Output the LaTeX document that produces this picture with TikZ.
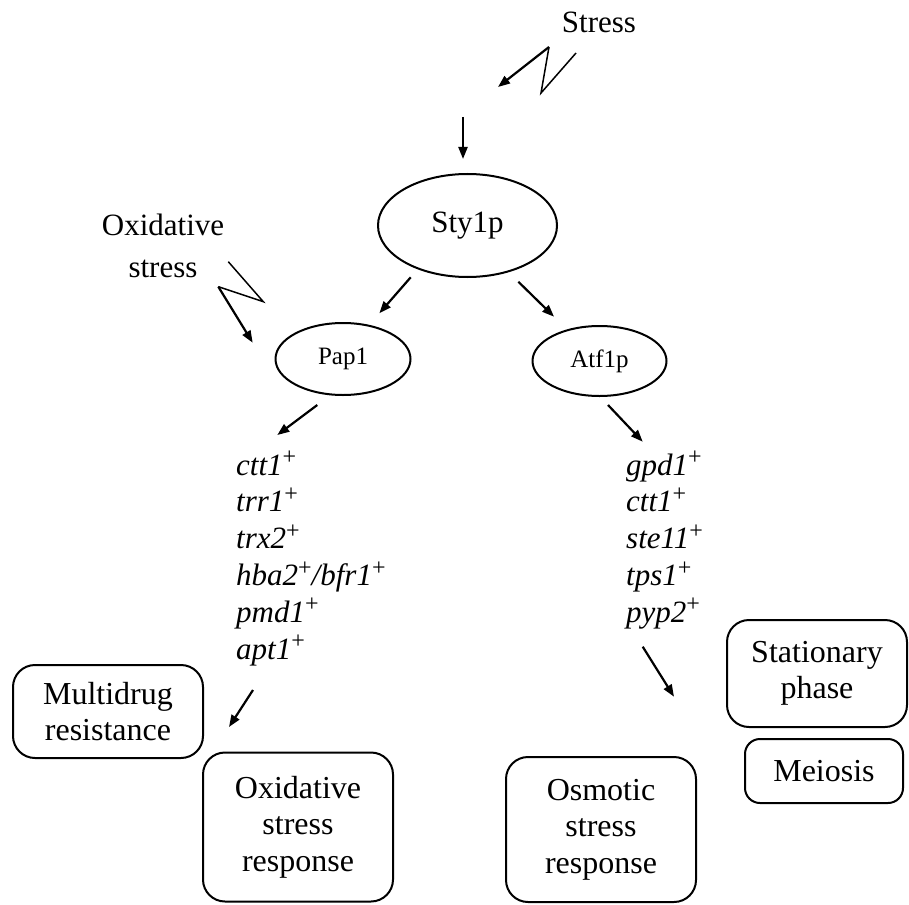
\documentclass[tikz,border=0pt]{standalone}
\usepackage{fontspec}
\setmainfont{Liberation Serif}
\usetikzlibrary{arrows.meta,shapes.geometric}
\newcommand\plussup{\raisebox{0.33em}{\fontsize{24}{24}\selectfont +}}
\begin{document}
\begin{tikzpicture}[x=1pt,y=-1pt,
  prot/.style={ellipse, draw, line width=2pt, inner sep=0pt},
  resp/.style={draw, rounded corners=22pt, line width=2pt, align=center, inner sep=0pt,
               font=\fontsize{32}{36.5}\selectfont},
  lbl/.style={inner sep=0pt, font=\fontsize{31}{42}\selectfont},
  gene/.style={inner sep=0pt, font=\fontsize{31}{36.8}\selectfont},
  arr/.style={line width=2.2pt, -{Triangle[length=12pt,width=9pt]}},
  zig/.style={line width=1.5pt, line join=miter}]
\useasboundingbox (0,0) rectangle (909,904);

% labels
\node[lbl, anchor=base] (stresslbl) at (599,33) {Stress};
\node[lbl, anchor=base] (oxlbl) at (163,235) {\begin{tabular}[t]{@{}c@{}}Oxidative\\stress\end{tabular}};

% proteins
\node[prot, minimum width=179pt, minimum height=103pt, font=\fontsize{31}{36}\selectfont] (sty) at (467.5,225.5) {\raisebox{7pt}{Sty1p}};
\node[prot, minimum width=135pt, minimum height=72pt, font=\fontsize{25}{28}\selectfont] (pap) at (343,359) {Pap1};
\node[prot, minimum width=134pt, minimum height=70pt, font=\fontsize{25}{28}\selectfont] (atf) at (599.5,361) {Atf1p};

% gene lists
\node[gene, anchor=base west] (genesL) at (236,475) {\begin{tabular}[t]{@{}l@{}}
\textit{ctt1}\plussup\\
\textit{trr1}\plussup\\
\textit{trx2}\plussup\\
\textit{hba2}\plussup\textit{/bfr1}\plussup\\
\textit{pmd1}\plussup\\
\textit{apt1}\plussup
\end{tabular}};
\node[gene, anchor=base west] (genesR) at (626,475) {\begin{tabular}[t]{@{}l@{}}
\textit{gpd1}\plussup\\
\textit{ctt1}\plussup\\
\textit{ste11}\plussup\\
\textit{tps1}\plussup\\
\textit{pyp2}\plussup
\end{tabular}};

% responses
\node[resp, minimum width=190pt, minimum height=93pt] (mdr) at (108,711.5) {Multidrug\\resistance};
\node[resp, minimum width=190pt, minimum height=149pt] (osr) at (298,827) {Oxidative\\stress\\response};
\node[resp, minimum width=190pt, minimum height=145pt] (osm) at (601,829.5) {Osmotic\\stress\\response};
\node[resp, minimum width=180pt, minimum height=107pt] (stat) at (817,673.5) {Stationary\\phase};
\node[resp, rounded corners=15pt, minimum width=158pt, minimum height=64pt] (mei) at (824,771) {Meiosis};

% zigzag coordinates
\coordinate (sz1) at (576,53);
\coordinate (sz2) at (541,93);
\coordinate (sz3) at (549,47);
\coordinate (sz4) at (498,87);
\coordinate (oz1) at (228.3,261.7);
\coordinate (oz2) at (263.3,301.7);
\coordinate (oz3) at (218.3,286.7);
\coordinate (oz4) at (252.7,342.7);
\draw[zig] (sz1) -- (sz2) -- (sz3);
\draw[arr] (sz3) -- (sz4);
\draw[zig] (oz1) -- (oz2) -- (oz3);
\draw[arr] (oz3) -- (oz4);

% arrow coordinates
\coordinate (a1s) at (463,117);   \coordinate (a1e) at (463,159);
\coordinate (a2s) at (410.7,277.3); \coordinate (a2e) at (379.3,313.3);
\coordinate (a3s) at (518.3,281.7); \coordinate (a3e) at (554,316.7);
\coordinate (a4s) at (317.3,405); \coordinate (a4e) at (277.3,435);
\coordinate (a5s) at (608,405);   \coordinate (a5e) at (642.7,441.7);
\coordinate (a6s) at (253,690);   \coordinate (a6e) at (229,727);
\coordinate (a7s) at (642.7,646.7); \coordinate (a7e) at (674,696.7);
\draw[arr] (a1s) -- (a1e);
\draw[arr] (a2s) -- (a2e);
\draw[arr] (a3s) -- (a3e);
\draw[arr] (a4s) -- (a4e);
\draw[arr] (a5s) -- (a5e);
\draw[arr] (a6s) -- (a6e);
\draw[arr] (a7s) -- (a7e);
\end{tikzpicture}
\end{document}
